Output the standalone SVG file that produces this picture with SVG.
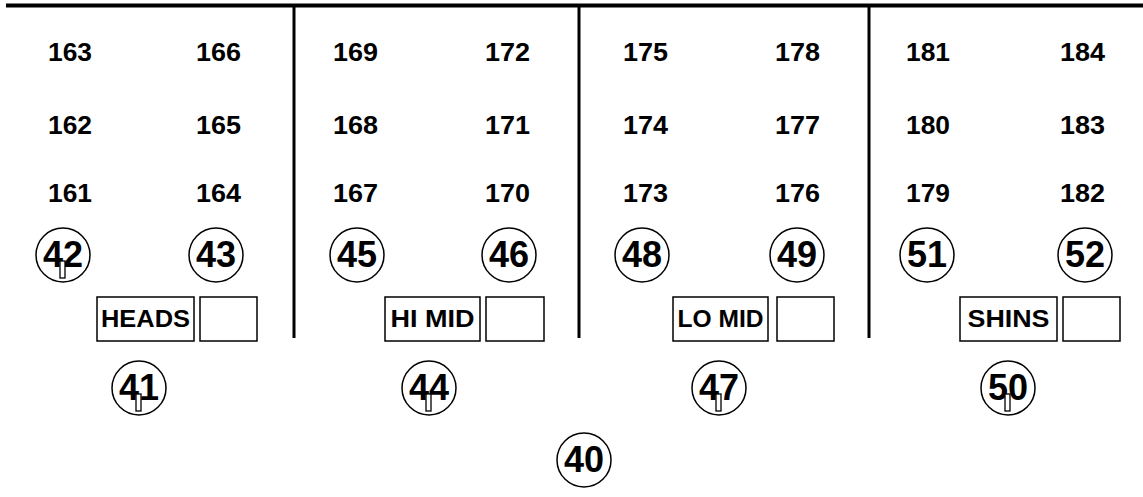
<svg xmlns="http://www.w3.org/2000/svg" width="1143" height="497" viewBox="0 0 1143 497">
<style>
.num{font-family:"Liberation Sans",Arial,sans-serif;font-weight:bold;font-size:25px;fill:#000}
.ct{font-family:"Liberation Sans",Arial,sans-serif;font-weight:bold;font-size:36px;fill:#000;text-anchor:middle}
.bt{font-family:"Liberation Sans",Arial,sans-serif;font-weight:bold;font-size:23px;fill:#000;text-anchor:middle}
.c{fill:#fff;stroke:#000;stroke-width:1.5}
.box{fill:#fff;stroke:#000;stroke-width:1.5}
.mk{fill:#fff;stroke:#000;stroke-width:1.3}
.ln{stroke:#000;fill:none}
</style>
<rect width="1143" height="497" fill="#fff"/>
<g id="lines">
<line class="ln" x1="6" y1="5.5" x2="1143" y2="5.5" stroke-width="4"/>
<line class="ln" x1="294" y1="4" x2="294" y2="338" stroke-width="3"/>
<line class="ln" x1="579" y1="4" x2="579" y2="338" stroke-width="3"/>
<line class="ln" x1="869" y1="4" x2="869" y2="338" stroke-width="3"/>
</g>
<g id="numbers">
<text class="num" x="48" y="61" textLength="44" lengthAdjust="spacingAndGlyphs">163</text><text class="num" x="196" y="61" textLength="45" lengthAdjust="spacingAndGlyphs">166</text>
<text class="num" x="48" y="134" textLength="44" lengthAdjust="spacingAndGlyphs">162</text><text class="num" x="196" y="134" textLength="45" lengthAdjust="spacingAndGlyphs">165</text>
<text class="num" x="48" y="202" textLength="44" lengthAdjust="spacingAndGlyphs">161</text><text class="num" x="196" y="202" textLength="45" lengthAdjust="spacingAndGlyphs">164</text>
<text class="num" x="333" y="61" textLength="45" lengthAdjust="spacingAndGlyphs">169</text><text class="num" x="485" y="61" textLength="45" lengthAdjust="spacingAndGlyphs">172</text>
<text class="num" x="333" y="134" textLength="45" lengthAdjust="spacingAndGlyphs">168</text><text class="num" x="485" y="134" textLength="45" lengthAdjust="spacingAndGlyphs">171</text>
<text class="num" x="333" y="202" textLength="45" lengthAdjust="spacingAndGlyphs">167</text><text class="num" x="485" y="202" textLength="45" lengthAdjust="spacingAndGlyphs">170</text>
<text class="num" x="623" y="61" textLength="45" lengthAdjust="spacingAndGlyphs">175</text><text class="num" x="775" y="61" textLength="45" lengthAdjust="spacingAndGlyphs">178</text>
<text class="num" x="623" y="134" textLength="45" lengthAdjust="spacingAndGlyphs">174</text><text class="num" x="775" y="134" textLength="45" lengthAdjust="spacingAndGlyphs">177</text>
<text class="num" x="623" y="202" textLength="45" lengthAdjust="spacingAndGlyphs">173</text><text class="num" x="775" y="202" textLength="45" lengthAdjust="spacingAndGlyphs">176</text>
<text class="num" x="906" y="61" textLength="44" lengthAdjust="spacingAndGlyphs">181</text><text class="num" x="1060" y="61" textLength="45" lengthAdjust="spacingAndGlyphs">184</text>
<text class="num" x="906" y="134" textLength="44" lengthAdjust="spacingAndGlyphs">180</text><text class="num" x="1060" y="134" textLength="45" lengthAdjust="spacingAndGlyphs">183</text>
<text class="num" x="906" y="202" textLength="44" lengthAdjust="spacingAndGlyphs">179</text><text class="num" x="1060" y="202" textLength="45" lengthAdjust="spacingAndGlyphs">182</text>
</g>
<g id="n42"><circle class="c" cx="63" cy="255" r="27"/><text class="ct" x="63" y="267">42</text><rect class="mk" x="60" y="261" width="5" height="17"/></g>
<g id="n43"><circle class="c" cx="216" cy="255" r="27"/><text class="ct" x="216" y="267">43</text></g>
<g id="n45"><circle class="c" cx="357" cy="255" r="27"/><text class="ct" x="357" y="267">45</text></g>
<g id="n46"><circle class="c" cx="509" cy="255" r="27"/><text class="ct" x="509" y="267">46</text></g>
<g id="n48"><circle class="c" cx="642" cy="255" r="27"/><text class="ct" x="642" y="267">48</text></g>
<g id="n49"><circle class="c" cx="797" cy="255" r="27"/><text class="ct" x="797" y="267">49</text></g>
<g id="n51"><circle class="c" cx="927" cy="255" r="27"/><text class="ct" x="927" y="267">51</text></g>
<g id="n52"><circle class="c" cx="1085" cy="255" r="27"/><text class="ct" x="1085" y="267">52</text></g>
<g id="heads"><rect class="box" x="97" y="297" width="97" height="44"/><text class="bt" x="145.5" y="327" textLength="89" lengthAdjust="spacingAndGlyphs">HEADS</text></g>
<g id="heads-empty"><rect class="box" x="200" y="297" width="57" height="44"/></g>
<g id="himid"><rect class="box" x="385" y="297" width="95" height="44"/><text class="bt" x="432.5" y="327" textLength="84" lengthAdjust="spacingAndGlyphs">HI MID</text></g>
<g id="himid-empty"><rect class="box" x="486" y="297" width="58" height="44"/></g>
<g id="lomid"><rect class="box" x="673" y="297" width="95" height="44"/><text class="bt" x="720.5" y="327" textLength="86" lengthAdjust="spacingAndGlyphs">LO MID</text></g>
<g id="lomid-empty"><rect class="box" x="777" y="297" width="57" height="44"/></g>
<g id="shins"><rect class="box" x="960" y="297" width="97" height="44"/><text class="bt" x="1008.5" y="327" textLength="82" lengthAdjust="spacingAndGlyphs">SHINS</text></g>
<g id="shins-empty"><rect class="box" x="1063" y="297" width="57" height="44"/></g>
<g id="n41"><circle class="c" cx="139" cy="388" r="27"/><text class="ct" x="139" y="400">41</text><rect class="mk" x="136" y="394" width="5" height="17"/></g>
<g id="n44"><circle class="c" cx="429" cy="388" r="27"/><text class="ct" x="429" y="400">44</text><rect class="mk" x="426" y="394" width="5" height="17"/></g>
<g id="n47"><circle class="c" cx="719" cy="388" r="27"/><text class="ct" x="719" y="400">47</text><rect class="mk" x="716" y="394" width="5" height="17"/></g>
<g id="n50"><circle class="c" cx="1008" cy="388" r="27"/><text class="ct" x="1008" y="400">50</text><rect class="mk" x="1005" y="394" width="5" height="17"/></g>
<g id="n40"><circle class="c" cx="584" cy="460" r="27"/><text class="ct" x="584" y="472">40</text></g>
</svg>
